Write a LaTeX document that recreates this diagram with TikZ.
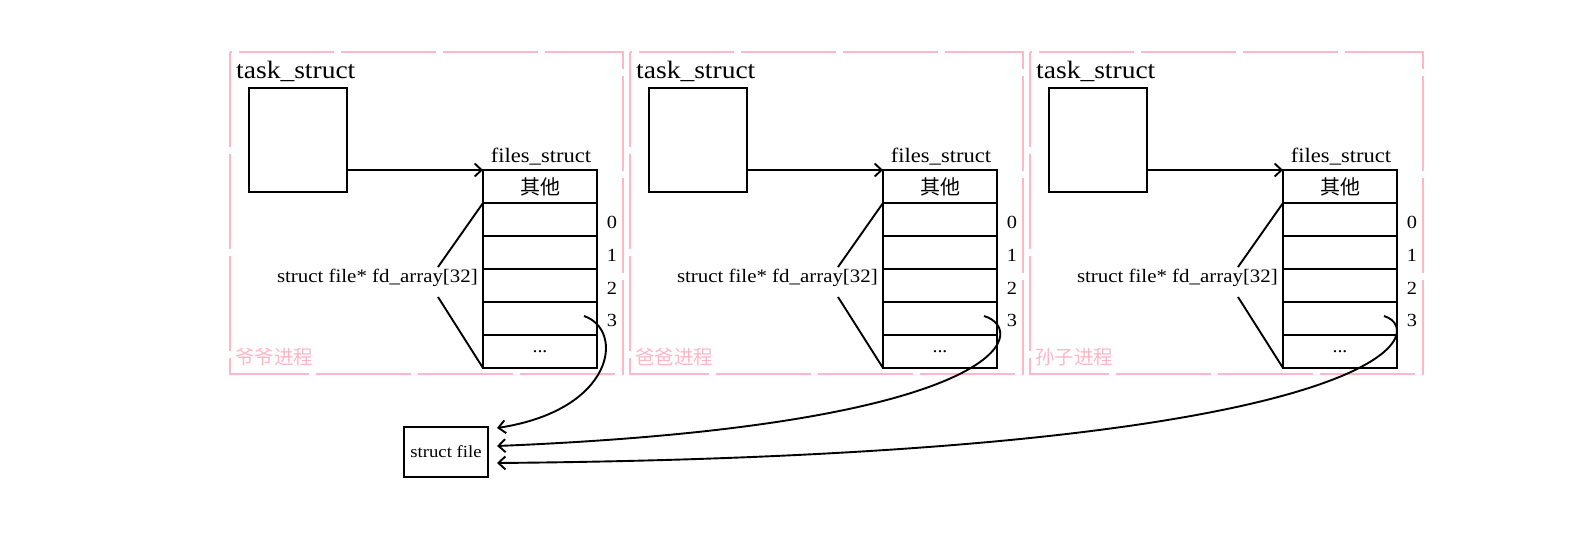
\documentclass[tikz,border=0pt]{standalone}
\usepackage{fontspec}
\setmainfont{Liberation Serif}[FakeStretch=1.1]
\newfontfamily\cjk{Noto Sans CJK SC}
\usetikzlibrary{arrows.meta}
\definecolor{pinkline}{RGB}{255,182,198}
\tikzset{
  frame/.style={draw=pinkline, line width=2.2pt, dash pattern=on 95pt off 7pt},
  blk/.style={draw=black, line width=2pt},
  cell/.style={blk, minimum width=114pt, minimum height=33pt, inner sep=0pt, outer sep=0pt},
  tbox/.style={blk, minimum width=98pt, minimum height=104pt, inner sep=0pt, outer sep=0pt},
  arr/.style={line width=1.9pt, -{Straight Barb[length=7pt,width=13pt]}},
  conn/.style={line width=1.9pt},
  tlbl/.style={font=\fontsize{25}{27}\selectfont, inner sep=0pt},
  flbl/.style={font=\fontsize{20.5}{22}\selectfont, inner sep=0pt},
  idx/.style={font=\fontsize{18.5}{20}\selectfont, inner sep=0pt},
  fdl/.style={font=\fontsize{19}{21}\selectfont, inner sep=0pt},
  plbl/.style={font=\cjk\fontsize{19.5}{21}\selectfont, text=pinkline, inner sep=0pt},
}
\begin{document}
\begin{tikzpicture}[x=1pt,y=-1pt]
\useasboundingbox (0,0) rectangle (1586,544);
\foreach \i/\dx/\pname in {1/0/爷爷进程, 2/400/爸爸进程, 3/800/孙子进程} {
  \draw[frame] (230+\dx,52) rectangle (623+\dx,374);
  \node[tlbl, anchor=base west] (tl\i) at (236+\dx,78) {task\_struct};
  \node[tbox] (task\i) at (298+\dx,140) {};
  \node[cell, font=\cjk\fontsize{20}{21}\selectfont] (c\i-0) at (540+\dx,186.5) {其他};
  \node[cell] (c\i-1) at (540+\dx,219.5) {};
  \node[cell] (c\i-2) at (540+\dx,252.5) {};
  \node[cell] (c\i-3) at (540+\dx,285.5) {};
  \node[cell] (c\i-4) at (540+\dx,318.5) {};
  \node[cell, font=\fontsize{18}{20}\selectfont] (c\i-5) at (540+\dx,351.5) {...};
  \node[flbl, anchor=base] (fl\i) at (541+\dx,162) {files\_struct};
  \draw[arr] (task\i.east |- c\i-0.north west) -- (c\i-0.north west);
  \node[idx] (n\i-0) at (612+\dx,222) {0};
  \node[idx] (n\i-1) at (612+\dx,255) {1};
  \node[idx] (n\i-2) at (612+\dx,288) {2};
  \node[idx] (n\i-3) at (612+\dx,320) {3};
  \node[fdl, anchor=east] (fd\i) at (478+\dx,278) {struct file* fd\_array[32]};
  \coordinate (bt\i) at (438+\dx,267);
  \coordinate (bb\i) at (438+\dx,297);
  \draw[conn] (c\i-1.north west) -- (bt\i);
  \draw[conn] (bb\i) -- (c\i-5.south west);
  \node[plbl, anchor=west] (p\i) at (235+\dx,357) {\pname};
  \coordinate (s\i) at (584+\dx,316);
}
\node[blk, minimum width=84pt, minimum height=50pt, inner sep=0pt, font=\fontsize{17}{19}\selectfont] (sf) at (446,452) {struct file};
\coordinate (e1) at (497,428);
\coordinate (e2) at (497,446);
\coordinate (e3) at (497,463);
\draw[arr] (s1) .. controls (625,330) and (615,410) .. (e1);
\draw[arr] (s2) .. controls (1030,330) and (1010,425) .. (e2);
\draw[arr] (s3) .. controls (1430,330) and (1400,455) .. (e3);
\end{tikzpicture}
\end{document}
